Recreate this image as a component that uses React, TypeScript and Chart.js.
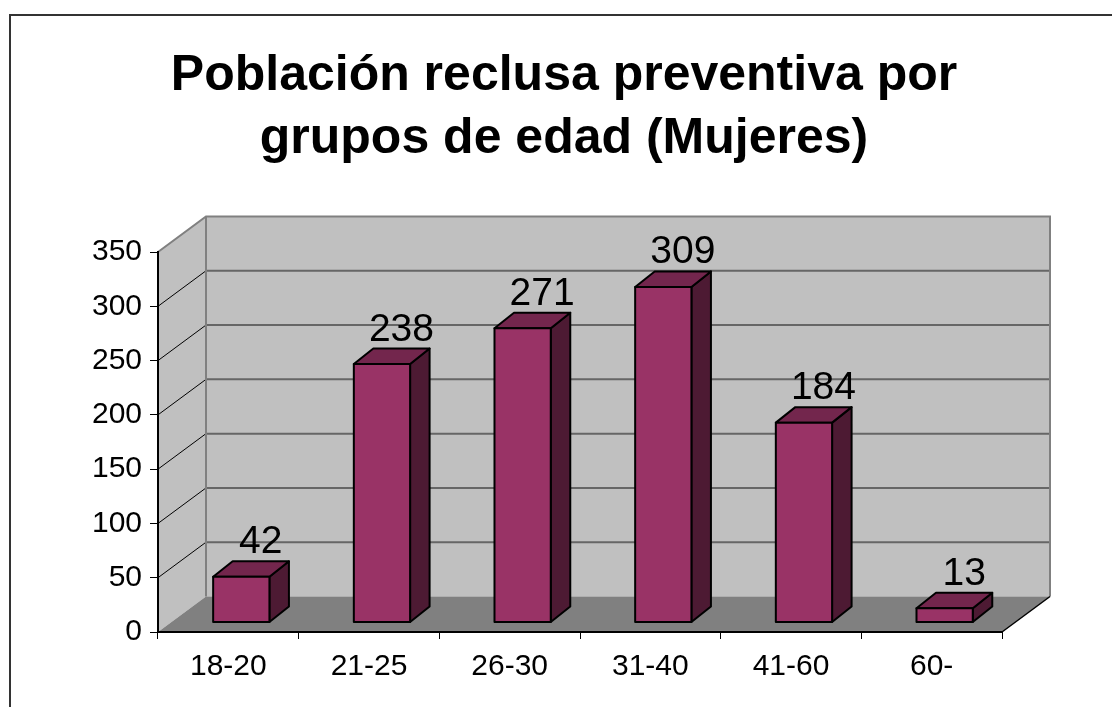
import React, { useEffect, useRef } from 'react';
import { Chart, registerables } from 'chart.js';

Chart.register(...registerables);

// ---- data ----
const categories = ['18-20', '21-25', '26-30', '31-40', '41-60', '60-'];
const values = [42, 238, 271, 309, 184, 13];
const yTicks = [0, 50, 100, 150, 200, 250, 300, 350];
const titleLines = ['Población reclusa preventiva por', 'grupos de edad (Mujeres)'];

// ---- style ----
const FONT = '"Liberation Sans", Arial, Helvetica, sans-serif';
const DEPTH = { dx: 48, dy: -35.5 };
const BAR_FRONT = 0.27;
const BAR_DEPTH = { dx: 19.5, dy: -15.5 };
const COLORS = {
  front: '#993366',
  top: '#73264d',
  side: '#4d1a33',
  wall: '#c0c0c0',
  floor: '#808080',
  grid: '#666666',
  edge: '#808080',
};

const threeDPlugin = {
  id: 'threeD',
  beforeDraw(chart: any) {
    const { ctx, chartArea: a, scales } = chart;
    const ys = scales.y;
    const { dx, dy } = DEPTH;
    const top = ys.getPixelForValue(yTicks[yTicks.length - 1]);
    const bot = ys.getPixelForValue(0);
    ctx.save();
    ctx.fillStyle = '#ffffff';
    ctx.fillRect(0, 0, chart.width, chart.height);
    // outer border
    ctx.strokeStyle = '#333333';
    ctx.lineWidth = 2;
    ctx.strokeRect(10, 15, chart.width + 50, chart.height + 50);
    // back wall
    ctx.fillStyle = COLORS.wall;
    ctx.fillRect(a.left + dx, top + dy, a.right - a.left, bot - top);
    // left wall
    ctx.beginPath();
    ctx.moveTo(a.left, top);
    ctx.lineTo(a.left + dx, top + dy);
    ctx.lineTo(a.left + dx, bot + dy);
    ctx.lineTo(a.left, bot);
    ctx.closePath();
    ctx.fill();
    // floor
    ctx.fillStyle = COLORS.floor;
    ctx.beginPath();
    ctx.moveTo(a.left, bot);
    ctx.lineTo(a.right, bot);
    ctx.lineTo(a.right + dx, bot + dy);
    ctx.lineTo(a.left + dx, bot + dy);
    ctx.closePath();
    ctx.fill();
    // gridlines
    yTicks.forEach((v) => {
      if (v === 0 || v === yTicks[yTicks.length - 1]) return;
      const py = ys.getPixelForValue(v);
      ctx.strokeStyle = COLORS.grid;
      ctx.lineWidth = 2;
      ctx.beginPath();
      ctx.moveTo(a.left + dx, py + dy);
      ctx.lineTo(a.right + dx, py + dy);
      ctx.stroke();
      ctx.strokeStyle = '#000000';
      ctx.lineWidth = 1;
      ctx.beginPath();
      ctx.moveTo(a.left, py);
      ctx.lineTo(a.left + dx, py + dy);
      ctx.stroke();
    });
    // wall edges
    ctx.strokeStyle = COLORS.edge;
    ctx.lineWidth = 2;
    ctx.beginPath();
    ctx.moveTo(a.left, top);
    ctx.lineTo(a.left + dx, top + dy);
    ctx.lineTo(a.right + dx, top + dy);
    ctx.lineTo(a.right + dx, bot + dy);
    ctx.moveTo(a.left + dx, top + dy);
    ctx.lineTo(a.left + dx, bot + dy);
    ctx.stroke();
    // floor right edge
    ctx.strokeStyle = '#000000';
    ctx.lineWidth = 1.5;
    ctx.beginPath();
    ctx.moveTo(a.right, bot);
    ctx.lineTo(a.right + dx, bot + dy);
    ctx.stroke();
    ctx.restore();
  },
  afterDatasetsDraw(chart: any) {
    const { ctx } = chart;
    const meta = chart.getDatasetMeta(0);
    const data = chart.data.datasets[0].data;
    const ox = DEPTH.dx * BAR_FRONT;
    const oy = DEPTH.dy * BAR_FRONT;
    const { dx, dy } = BAR_DEPTH;
    ctx.save();
    ctx.lineWidth = 2;
    ctx.lineJoin = 'round';
    ctx.strokeStyle = '#000000';
    meta.data.forEach((bar: any, i: number) => {
      const { x, y, base, width } = bar.getProps(['x', 'y', 'base', 'width'], true);
      const l = x - width / 2 + ox;
      const r = x + width / 2 + ox;
      const t = y + oy;
      const b = base + oy;
      // side
      ctx.fillStyle = COLORS.side;
      ctx.beginPath();
      ctx.moveTo(r, t);
      ctx.lineTo(r + dx, t + dy);
      ctx.lineTo(r + dx, b + dy);
      ctx.lineTo(r, b);
      ctx.closePath();
      ctx.fill();
      ctx.stroke();
      // top
      ctx.fillStyle = COLORS.top;
      ctx.beginPath();
      ctx.moveTo(l, t);
      ctx.lineTo(l + dx, t + dy);
      ctx.lineTo(r + dx, t + dy);
      ctx.lineTo(r, t);
      ctx.closePath();
      ctx.fill();
      ctx.stroke();
      // front
      ctx.fillStyle = COLORS.front;
      ctx.beginPath();
      ctx.rect(l, t, r - l, b - t);
      ctx.fill();
      ctx.stroke();
      // value label
      ctx.fillStyle = '#000000';
      ctx.font = `39px ${FONT}`;
      ctx.textAlign = 'center';
      ctx.textBaseline = 'alphabetic';
      ctx.fillText(String(data[i]), (l + r) / 2 + dx, t + dy - 8);
    });
    ctx.restore();
  },
};

export default function App() {
  const ref = useRef<HTMLCanvasElement | null>(null);
  useEffect(() => {
    if (!ref.current) return;
    const chart = new Chart(ref.current, {
      type: 'bar',
      data: {
        labels: categories,
        datasets: [
          {
            data: values,
            backgroundColor: 'rgba(0,0,0,0)',
            borderWidth: 0,
            categoryPercentage: 1,
            barPercentage: 0.4,
          },
        ],
      },
      options: {
        animation: false,
        responsive: false,
        devicePixelRatio: 1,
        layout: { padding: { left: 16, right: 0, top: 0, bottom: 0 } },
        plugins: {
          legend: { display: false },
          tooltip: { enabled: false },
          title: {
            display: true,
            text: titleLines,
            color: '#000000',
            font: { family: FONT, size: 50, weight: 'bold', lineHeight: 63 / 50 },
            padding: { top: 45, bottom: 81 },
          },
        },
        scales: {
          x: {
            type: 'category',
            grid: {
              display: true,
              drawOnChartArea: false,
              drawTicks: true,
              tickLength: 7,
              color: '#000000',
              lineWidth: 1,
              offset: true,
            },
            border: { display: true, color: '#000000', width: 2 },
            ticks: { font: { family: FONT, size: 30 }, color: '#000000', padding: 10, autoSkip: false, maxRotation: 0 },
            afterFit: (s: any) => {
              s.height = 75;
            },
          },
          y: {
            type: 'linear',
            min: 0,
            max: 350,
            ticks: { stepSize: 50, font: { family: FONT, size: 30 }, color: '#000000', padding: 8 },
            grid: { display: true, drawOnChartArea: false, tickLength: 8, color: '#000000', lineWidth: 1 },
            border: { display: true, color: '#000000', width: 2 },
            afterFit: (s: any) => {
              s.width = 142;
            },
          },
          yRight: {
            type: 'linear',
            position: 'right',
            display: true,
            min: 0,
            max: 350,
            grid: { display: false, drawTicks: false },
            border: { display: false },
            ticks: { display: false },
            afterFit: (s: any) => {
              s.width = 110;
            },
          },
        },
      },
      plugins: [threeDPlugin],
    } as any);
    return () => chart.destroy();
  }, []);
  return (
    <div style={{ position: 'absolute', left: 0, top: 0, width: 1112, height: 707, background: '#fff' }}>
      <canvas ref={ref} width={1112} height={707} style={{ display: 'block' }} />
    </div>
  );
}
